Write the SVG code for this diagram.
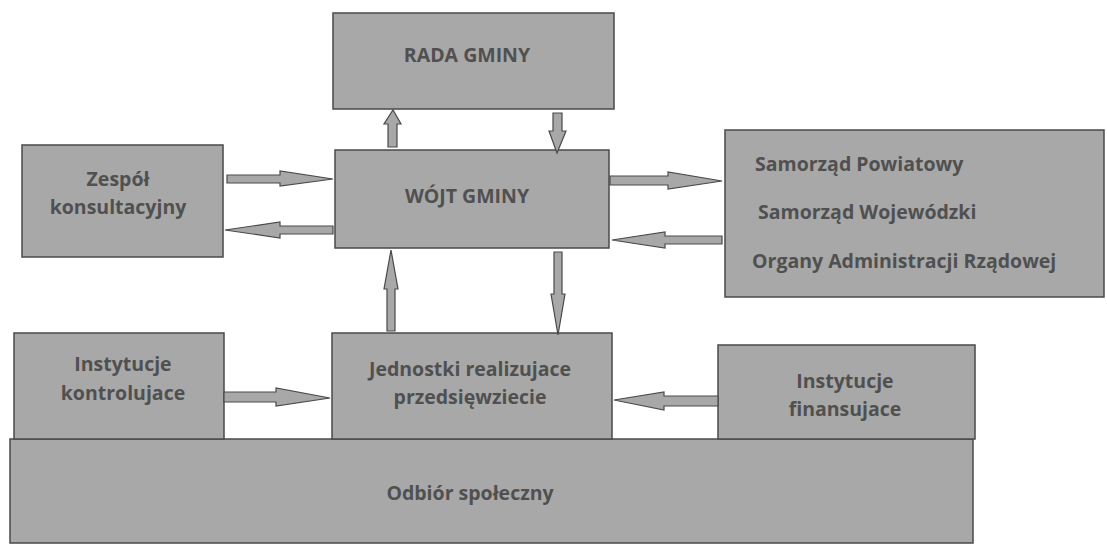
<svg xmlns="http://www.w3.org/2000/svg" width="1107" height="548" viewBox="0 0 1107 548">
<style>
.box{fill:#a8a8a8;stroke:#4a4a4a;stroke-width:1.5}
.t{font-family:"Open Sans","Liberation Sans",sans-serif;font-weight:700;font-size:19.5px;fill:#505050;text-anchor:middle}
.tl{font-family:"Open Sans","Liberation Sans",sans-serif;font-weight:700;font-size:19.5px;fill:#505050}
.arr{fill:#a8a8a8;stroke:#4a4a4a;stroke-width:1.2;stroke-linejoin:miter}
</style>
<rect width="1107" height="548" fill="#ffffff"/>
<g id="odbior">
<rect class="box" x="10" y="439" width="963" height="104"/>
<text class="t" x="470" y="500">Odbiór społeczny</text>
</g>
<g id="rada">
<rect class="box" x="333" y="13" width="281" height="96"/>
<text class="t" x="467" y="62">RADA GMINY</text>
</g>
<g id="wojt">
<rect class="box" x="335" y="150" width="274" height="98"/>
<text class="t" x="467" y="203">WÓJT GMINY</text>
</g>
<g id="zespol">
<rect class="box" x="22" y="145" width="201" height="112"/>
<text class="t" x="118" y="186">Zespół</text>
<text class="t" x="118" y="214">konsultacyjny</text>
</g>
<g id="samorzad">
<rect class="box" x="725" y="130" width="379" height="167"/>
<text class="tl" x="755" y="171">Samorząd Powiatowy</text>
<text class="tl" x="758" y="219">Samorząd Wojewódzki</text>
<text class="tl" x="752" y="268">Organy Administracji Rządowej</text>
</g>
<g id="kontrolujace">
<rect class="box" x="14" y="333" width="210" height="106"/>
<text class="t" x="123" y="371">Instytucje</text>
<text class="t" x="123" y="400">kontrolujace</text>
</g>
<g id="jednostki">
<rect class="box" x="332" y="333" width="280" height="106"/>
<text class="t" x="470" y="376">Jednostki realizujace</text>
<text class="t" x="470" y="404">przedsięwziecie</text>
</g>
<g id="finansujace">
<rect class="box" x="718" y="345" width="257" height="94"/>
<text class="t" x="845" y="388">Instytucje</text>
<text class="t" x="845" y="416">finansujace</text>
</g>
<g id="connectors">
<polygon class="arr" points="227,175 280,175 280,171 333,179 280,186 280,183 227,183"/>
<polygon class="arr" points="333,226 280,226 280,222 225,230 280,238 280,234 333,234"/>
<polygon class="arr" points="610,176 668,176 668,172 722,181 668,189 668,185 610,185"/>
<polygon class="arr" points="722,236 665,236 665,232 612,240 665,248 665,244 722,244"/>
<polygon class="arr" points="388,147 388,124 384,124 393,110 401,124 397,124 397,147"/>
<polygon class="arr" points="553,113 553,131 549,131 557,153 566,131 562,131 562,113"/>
<polygon class="arr" points="387,331 387,289 384,289 391,250 398,289 395,289 395,331"/>
<polygon class="arr" points="554,252 554,294 551,294 558,335 565,294 562,294 562,252"/>
<polygon class="arr" points="224,392 276,392 276,388 330,398 276,406 276,402 224,402"/>
<polygon class="arr" points="718,396 664,396 664,392 614,400 664,410 664,406 718,406"/>
</g>
</svg>
